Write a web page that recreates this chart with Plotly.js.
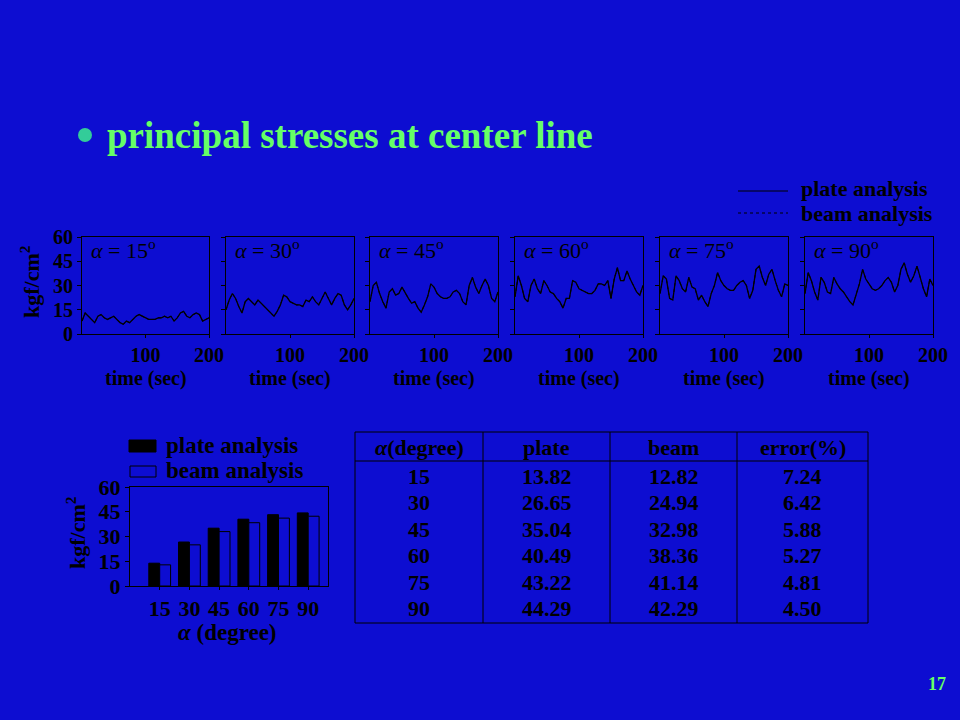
<!DOCTYPE html>
<html><head><meta charset="utf-8">
<script src="https://cdn.plot.ly/plotly-3.0.1.min.js"></script>
<style>html,body{margin:0;padding:0;background:#0d0dd1;}#chart{width:960px;height:720px;}</style>
</head><body><div id="chart"></div>
<script>
// ---- data ----
const timeSec = [0,5,10,15,20,25,30,35,40,45,50,55,60,65,70,75,80,85,90,95,100,105,110,115,120,125,130,135,140,145,150,155,160,165,170,175,180,185,190,195,200];
const angleLabels = ["15","30","45","60","75","90"];
const stress15 = [8,13,11,9,7,11,12,10,9,10,11,9,7,6,8,7,9,11,12,11,10,9,9,9,10,10,11,10,11,8,10,13,14,11,10,12,13,12,8,9,10];
const stress30 = [15,21,25,22,17,13,20,22,20,18,21,19,17,15,13,11,14,18,24,23,20,19,18,18,17,21,20,23,20,18,22,26,22,18,22,25,24,18,15,18,22];
const stress45 = [20,30,32,25,20,16,26,28,24,25,29,25,22,19,20,16,13.5,18,23,31,29,25,23,22,22,23,26,27,25,20,18,30,35,29,25,30,34,30,22,20,26];
const stress60 = [23,36,30,22,20,30,34,28,25,33,30,26,25,22,20,16,22,22,33,32,28,27,26,25,25,27,31,31,30,33,22,34,41,33,33,39,34,30,26,24,30];
const stress75 = [25,36,34,22,21,36,33,28,26,35,29,28,21,24,20,17,25,30,38,33,30,28,27,27,30,32,33,30,22,27,40,42,35,30,37,40,33,27,23,31,30];
const stress90 = [25,38,33,26,21,35,32,26,25,35,31,28,26,23,20,18,25,31,40,34,31,28,27,28,30,33,35,32,26,30,40,44,37,32,36,42,35,28,23,34,30];
const seriesByAngle = [stress15, stress30, stress45, stress60, stress75, stress90];

const alphaDeg = [15,30,45,60,75,90];
const plateMax = [13.82,26.65,35.04,40.49,43.22,44.29];
const beamMax  = [12.82,24.94,32.98,38.36,41.14,42.29];
const errorPct = [7.24,6.42,5.88,5.27,4.81,4.50];
const tableHeader = ["<i>α</i>(degree)","plate","beam","error(%)"];
const stressTicks = [0,15,30,45,60];
const timeTicks = [100,200];

// ---- style ----
const BG = "#0d0dd1";
const SERIF = "Liberation Serif, Times New Roman, serif";
const bold = (size, color) => ({family: SERIF, size: size, color: color || "black", weight: "bold"});
const W = 960, H = 720;
const px = v => v / W, py = v => 1 - v / H;

const panelX = [[82,209],[226,354],[370,498],[515,643],[660,788],[805,933]];
const panelY = [237,334];

const traces = [];
const layout = {
  width: W, height: H,
  margin: {l:0,r:0,t:0,b:0},
  paper_bgcolor: BG, plot_bgcolor: BG,
  showlegend: false,
  font: {family: SERIF, color: "black"},
  annotations: [], shapes: []
};
function note(x, y, text, font, extra) {
  layout.annotations.push(Object.assign({xref:"paper", yref:"paper", x: px(x), y: py(y),
    xanchor:"center", yanchor:"middle", showarrow:false, text: text, font: font}, extra || {}));
}

seriesByAngle.forEach((vals, i) => {
  const n = i === 0 ? "" : String(i + 1);
  traces.push({x: timeSec, y: vals, xaxis: "x" + n, yaxis: "y" + n, type: "scatter", mode: "lines",
    name: "plate analysis", line: {color: "black", width: 1.3}, hoverinfo: "skip"});
  traces.push({x: timeSec, y: vals, xaxis: "x" + n, yaxis: "y" + n, type: "scatter", mode: "lines",
    name: "beam analysis", line: {color: "black", width: 1, dash: "dot"}, hoverinfo: "skip"});
  layout["xaxis" + n] = {
    domain: [px(panelX[i][0]), px(panelX[i][1])], anchor: "y" + n,
    range: [0, 200], tickvals: timeTicks, ticktext: timeTicks.map(String),
    ticks: "outside", ticklen: 3, tickcolor: "black", showgrid: false, zeroline: false,
    showline: true, linecolor: "black", linewidth: 1, mirror: true, tickfont: bold(20)
  };
  layout["yaxis" + n] = {
    domain: [py(panelY[1]), py(panelY[0])], anchor: "x" + n,
    range: [0, 60], tickvals: stressTicks, ticktext: stressTicks.map(String),
    showticklabels: i === 0,
    ticks: "outside", ticklen: 4, tickcolor: "black", showgrid: false, zeroline: false,
    showline: true, linecolor: "black", linewidth: 1, mirror: true, tickfont: bold(20)
  };
  note((panelX[i][0] + panelX[i][1]) / 2, 378, "time (sec)", bold(20));
  note(panelX[i][0] + 7, 249, "<i>α</i> = " + angleLabels[i] + "<sup>o</sup>",
    {family: SERIF, size: 22, color: "black"}, {xanchor: "left"});
});

// y title top row
note(30, 282, "kgf/cm<sup>2</sup>", bold(22), {textangle: -90});

// top legend
layout.shapes.push({type:"line",xref:"paper",yref:"paper",x0:px(738),x1:px(788),y0:py(191),y1:py(191),line:{color:"black",width:1}});
layout.shapes.push({type:"line",xref:"paper",yref:"paper",x0:px(738),x1:px(788),y0:py(213),y1:py(213),line:{color:"black",width:1,dash:"dot"}});
note(799, 189, "plate analysis", bold(22), {xanchor: "left"});
note(799, 213, "beam analysis", bold(22), {xanchor: "left"});

// bar chart
traces.push({type:"bar",x:alphaDeg,y:plateMax,xaxis:"x7",yaxis:"y7",name:"plate analysis",width:5.5,offset:-5.5,
  marker:{color:"black",line:{color:"black",width:1}},hoverinfo:"skip"});
traces.push({type:"bar",x:alphaDeg,y:beamMax,xaxis:"x7",yaxis:"y7",name:"beam analysis",width:5.5,offset:0,
  marker:{color:BG,line:{color:"black",width:1}},hoverinfo:"skip"});
layout.barmode = "overlay";
layout.xaxis7 = {domain:[px(130),px(328)],anchor:"y7",range:[0,100],tickvals:alphaDeg,ticktext:alphaDeg.map(String),
  ticks:"outside",ticklen:3,tickcolor:"black",showgrid:false,zeroline:false,showline:true,linecolor:"black",mirror:true,
  tickfont:bold(22)};
layout.yaxis7 = {domain:[py(586),py(487)],anchor:"x7",range:[0,60],tickvals:stressTicks,ticktext:stressTicks.map(String),
  ticks:"outside",ticklen:4,tickcolor:"black",showgrid:false,zeroline:false,showline:true,linecolor:"black",mirror:true,
  tickfont:bold(22)};
note(227, 632, "<i>α</i> (degree)", bold(23));
note(76, 533, "kgf/cm<sup>2</sup>", bold(22), {textangle: -90});
// bar legend
layout.shapes.push({type:"rect",xref:"paper",yref:"paper",x0:px(129),x1:px(156),y0:py(452),y1:py(440),fillcolor:"black",line:{color:"black",width:1}});
layout.shapes.push({type:"rect",xref:"paper",yref:"paper",x0:px(130),x1:px(156),y0:py(477),y1:py(466),fillcolor:BG,line:{color:"black",width:1}});
note(164, 445, "plate analysis", bold(23), {xanchor: "left"});
note(164, 470, "beam analysis", bold(23), {xanchor: "left"});

// table
const colEdges = [355,483,610,737,868];
const tTop = 432, tHead = 461, tBot = 623;
layout.shapes.push({type:"rect",xref:"paper",yref:"paper",x0:px(colEdges[0]),x1:px(colEdges[4]),y0:py(tBot),y1:py(tTop),line:{color:"black",width:1}});
layout.shapes.push({type:"line",xref:"paper",yref:"paper",x0:px(colEdges[0]),x1:px(colEdges[4]),y0:py(tHead),y1:py(tHead),line:{color:"black",width:1}});
for (let c = 1; c < 4; c++) layout.shapes.push({type:"line",xref:"paper",yref:"paper",x0:px(colEdges[c]),x1:px(colEdges[c]),y0:py(tBot),y1:py(tTop),line:{color:"black",width:1}});
const cellFont = bold(22);
tableHeader.forEach((h,c) => note((colEdges[c]+colEdges[c+1])/2, 447, h, cellFont));
const tableCols = [alphaDeg.map(String), plateMax.map(v=>v.toFixed(2)), beamMax.map(v=>v.toFixed(2)), errorPct.map(v=>v.toFixed(2))];
tableCols.forEach((col,c) => col.forEach((t,r) => note((colEdges[c]+colEdges[c+1])/2, 476 + r*26.5, t, cellFont)));

// heading
layout.shapes.push({type:"circle",xref:"paper",yref:"paper",x0:px(78),x1:px(92),y0:py(142),y1:py(128),fillcolor:"#33cc99",line:{width:0}});
note(105, 135, "principal stresses at center line", bold(37, "#66ff66"), {xanchor: "left"});
note(937, 684, "17", bold(18, "#66ff66"));

Plotly.newPlot("chart", traces, layout, {staticPlot:true, displayModeBar:false});
</script></body></html>
